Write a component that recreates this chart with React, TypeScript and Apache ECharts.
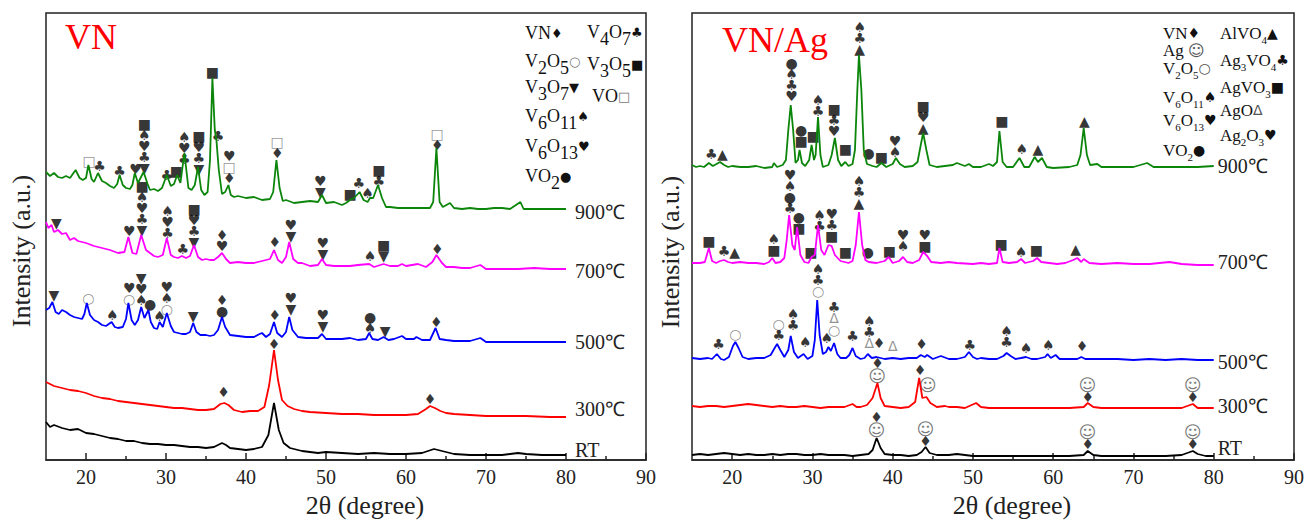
import React, { useEffect, useRef } from 'react';
import * as echarts from 'echarts';

// ---------- axis ticks ----------
const xLabelValues = [20, 30, 40, 50, 60, 70, 80, 90];
const xMinorValues = [25, 35, 45, 55, 65, 75, 85];

// ---------- series names / colours ----------
const tempNames = ['RT', '300℃', '500℃', '700℃', '900℃'];
const tempColors = ['#000000', '#ff0000', '#0000ff', '#ff00ff', '#0b860b'];

// ---------- VN panel (2θ, offset intensity a.u.) ----------
const vnRT = [[15,38],[15.5,33],[16,35],[17,32],[18,30],[19,31],[20,27],[21,26],[22,24],[23,22],[24,21],[25,19],[26,19],[27,17],[28,16],[29,16],[30,15],[31,15],[32,14],[33,13],[34,13],[35,12],[36,13],[37,17],[37.5,15],[38,12],[39,11],[40,10],[41,11],[42,13],[42.8,25],[43.5,57],[44.1,30],[44.7,17],[45.5,12],[47,9],[48,8],[49,7],[50,8],[52,7],[54,6],[56,7],[58,6],[60,6],[62,7],[63.5,11],[64.5,9],[66,6],[68,5],[70,5],[72,5],[74,7],[75,6],[77,5],[80,5]];
const vn300 = [[15,78],[16,74],[17,72],[18,70],[19,69],[20,67],[21,64],[22,62],[23,61],[24,59],[25,58],[26,57],[27,56],[28,55],[29,54],[30,53],[31,52],[32,52],[33,51],[34,50],[35,50],[36,51],[36.8,56],[37.3,57],[37.8,55],[38.5,50],[39.5,48],[40.5,49],[41.5,49],[42.3,53],[42.9,75],[43.5,110],[44,80],[44.5,60],[45.2,54],[46,51],[47,49],[48,48],[50,47],[52,46],[54,46],[56,45],[58,45],[60,45],[61.5,46],[62.5,51],[63,54],[63.6,52],[64.3,49],[65,47],[66,46],[68,45],[70,44],[72,44],[75,44],[78,43],[80,43]];
const vn500 = [[15,150],[15.4,152],[15.8,158],[16.2,148],[16.6,146],[17,150],[17.5,148],[18,145],[18.5,143],[19,142],[19.5,141],[19.8,146],[20.1,157],[20.5,145],[21,140],[21.5,138],[22,135],[22.5,134],[23.2,138],[23.6,133],[24,132],[24.6,133],[25,141],[25.3,157],[25.7,140],[26.1,135],[26.5,140],[26.9,153],[27.3,142],[27.8,150],[28.1,138],[28.5,132],[28.9,131],[29.2,138],[29.6,133],[30.1,147],[30.6,134],[31,128],[31.5,127],[32,126],[32.5,126],[33,128],[33.4,137],[33.8,128],[34.3,125],[35,125],[35.5,124],[36,125],[36.5,130],[37,143],[37.4,133],[38,125],[39,124],[40,123],[41,123],[41.7,126],[42,127],[42.5,123],[43,126],[43.5,138],[43.9,127],[44.5,123],[45,128],[45.4,143],[45.8,130],[46.5,123],[47.5,122],[48.5,122],[49,122],[49.5,126],[50,121],[51,121],[52,121],[53,122],[53.5,121],[54,120],[55,121],[55.4,127],[55.8,121],[56.5,120],[57.2,123],[57.8,120],[58.5,121],[59.5,124],[60,121],[61,121],[61.3,123],[62,120],[63,120],[63.7,132],[64.2,121],[65,120],[66,119],[67,119],[68,119],[69.3,122],[70,118],[72,118],[74,118],[76,118],[78,118],[80,118]];
const vn700 = [[15,238],[15.3,232],[15.7,235],[16,228],[16.5,230],[17,226],[17.5,227],[18,220],[18.5,222],[19,219],[20,217],[21,214],[22,212],[23,210],[24,207],[24.8,208],[25.3,223],[25.8,207],[26.3,206],[26.9,225],[27.5,210],[28,207],[28.5,204],[29,203],[29.6,205],[30.1,222],[30.6,205],[31,203],[31.5,202],[32,204],[32.5,202],[33,204],[33.5,215],[34,203],[34.5,200],[35,201],[35.5,200],[36,200],[36.5,203],[37,207],[37.5,201],[38,197],[39,198],[40,197],[41,197],[42,199],[43,201],[43.5,210],[44,200],[44.5,197],[45,203],[45.4,218],[45.9,201],[46.5,197],[47,197],[48,194],[49,195],[49.5,201],[50,195],[51,194],[52,194],[53,194],[54,195],[55.4,196],[56,193],[57.2,196],[58,194],[59,194],[59.5,196],[60,194],[61.5,196],[62.5,193],[63.3,198],[63.8,205],[64.5,197],[65,193],[66,193],[67,192],[68,192],[69.3,195],[70,191],[72,191],[74,191],[76,192],[78,191],[80,191]];
const vn900 = [[15,288],[15.5,284],[16,287],[16.5,283],[17,282],[17.5,284],[18,282],[18.7,290],[19.2,282],[19.6,280],[20,282],[20.3,295],[20.7,281],[21,278],[21.5,287],[22,279],[22.5,277],[23,274],[23.5,272],[23.9,276],[24.2,285],[24.6,275],[25,272],[25.5,271],[25.8,275],[26.1,287],[26.5,277],[27.2,288],[27.7,276],[28,270],[28.5,271],[29,269],[29.5,272],[30.1,285],[30.6,274],[31,276],[31.4,285],[31.8,277],[32.3,307],[32.8,272],[33.2,270],[33.6,275],[34,293],[34.4,270],[34.8,265],[35.2,268],[35.5,300],[35.8,382],[36.1,330],[36.3,320],[36.6,290],[37,266],[37.4,268],[37.8,275],[38.1,265],[38.5,263],[39,264],[40,262],[41,263],[42,260],[43,261],[43.4,268],[43.8,300],[44.2,272],[44.6,259],[45,260],[46,257],[47,258],[48,259],[49,258],[49.5,265],[50,257],[51,258],[52,255],[52.5,257],[53,260],[53.5,262],[54.2,268],[54.7,260],[55.2,258],[55.5,262],[55.9,262],[56.5,275],[57,262],[57.5,253],[58,253],[59,252],[60,252],[61,252],[62,252],[63,252],[63.4,258],[63.8,312],[64.2,258],[64.6,253],[65.5,257],[66,252],[67,251],[68,252],[69,251],[70,251],[71,252],[72,252],[73,251],[74.3,258],[74.7,251],[76,251],[78,251],[80,251]];

// phase markers: [2θ, intensity at bottom of stack, symbols top→bottom]
const vnMarks = [
  [20.4,293,'□'],[21.7,288,'♣'],[24.2,283,'♣'],[26.2,285,'♥'],[27.3,286,'■♠♥♣▼'],[30.1,279,'♣'],[31.3,283,'■'],[32.3,295,'♠♥♣'],[34.1,285,'■♥♣▼'],[35.8,382,'■'],[36.5,318,'♣'],[37.9,276,'♥□♦'],[43.9,301,'□♦'],[49.3,262,'♥▼'],[53.0,260,'■'],[54.1,271,'♣'],[55.2,261,'♠'],[56.6,273,'■♣'],[63.9,309,'□♦'],
  [16.3,231,'▼'],[25.4,223,'♥'],[27.0,224,'■♠♥♣▼'],[30.2,221,'♠♥♣'],[32.1,205,'♣'],[33.5,212,'■♥♣▼'],[37.0,208,'♦♥'],[43.6,212,'♦'],[45.6,218,'♥▼'],[49.6,200,'♥▼'],[55.5,198,'♠'],[57.2,198,'■▼'],[63.9,205,'♦'],
  [16.0,159,'▼'],[20.3,156,'○'],[23.3,139,'♠'],[25.4,155,'♥○'],[26.9,154,'▼♥♠'],[28.0,150,'●'],[29.2,138,'♠'],[30.1,145,'♥♠○'],[33.4,138,'▼'],[37.0,143,'♦●'],[43.6,139,'♦'],[45.6,145,'♥▼'],[49.6,128,'♥▼'],[55.5,126,'●♠'],[57.4,123,'▼'],[63.8,132,'♦'],
  [37.2,62,'♦'],[43.5,110,'♦'],[63.0,55,'♦'],
];

// ---------- VN/Ag panel ----------
const agRT = [[15,5],[16,6],[17,5],[18,6],[19,7],[20,6],[21,5],[22,6],[23,5],[24,5],[25,6],[26,5],[27,6],[28,6],[29,5],[30,5],[31,6],[32,5],[33,5],[34,5],[35,4],[36,5],[37,6],[37.5,10],[38,22],[38.5,12],[39,6],[40,5],[41,5],[42,4],[43,5],[43.6,8],[44.1,13],[44.6,7],[45.5,5],[47,5],[48,6],[50,4],[52,4],[54,4],[56,4],[58,4],[60,4],[62,4],[63.8,5],[64.3,9],[65,5],[66,4],[68,4],[70,4],[72,4],[74,4],[76,5],[77.4,9],[78,6],[79,4],[80,4]];
const ag300 = [[15,54],[16,53],[17,54],[18,54],[19,53],[20,54],[21,55],[22,56],[23,55],[24,54],[25,53],[26,54],[27,53],[28,53],[29,54],[30,53],[31,52],[32,53],[33,53],[34,53],[35,56],[35.5,53],[36,53],[36.8,55],[37.5,62],[38.1,77],[38.5,62],[39,54],[40,53],[41,52],[42,53],[42.8,58],[43.3,82],[43.7,62],[44.2,63],[44.7,57],[45.5,53],[46.5,54],[47,53],[48,53],[49,52],[50.4,57],[51,53],[52,52],[54,52],[56,52],[58,52],[60,52],[62,52],[63.8,53],[64.3,57],[65,53],[66,52],[68,52],[70,52],[72,52],[74,52],[76,52],[77.4,56],[78,52],[80,52]];
const ag500 = [[15,102],[16,101],[17,102],[17.5,101],[18.1,106],[18.6,101],[19,100],[19.6,103],[20.1,114],[20.4,118],[20.8,112],[21.3,103],[22,101],[23,102],[24,102],[24.8,105],[25.3,112],[25.6,116],[26,110],[26.5,103],[27,110],[27.3,124],[27.7,108],[28.2,102],[28.9,106],[29.4,101],[30,104],[30.3,120],[30.6,160],[30.9,125],[31.3,106],[31.7,108],[32,113],[32.3,109],[32.7,117],[33.1,106],[33.5,102],[34.2,102],[34.6,105],[35,112],[35.4,104],[36,101],[36.5,102],[36.9,106],[37.4,102],[38,103],[38.5,102],[39,101],[40,102],[41,101],[42,102],[43,102],[43.5,105],[44,103],[44.3,105],[45,101],[46,104],[47,101],[48,101],[49,103],[49.5,108],[50,103],[50.5,101],[51,102],[52,101],[53,101],[53.8,104],[54.2,107],[54.7,104],[55.3,101],[56,102],[56.6,103],[57.3,101],[58,101],[59,103],[59.3,106],[59.7,102],[60.3,105],[60.8,101],[62,101],[63,101],[63.5,103],[64,101],[66,101],[68,101],[70,100],[72,101],[74,100],[76,101],[78,100],[80,100]];
const ag700 = [[15,197],[16,197],[16.6,198],[17.1,212],[17.5,199],[18,197],[18.5,199],[19,200],[19.5,198],[20,197],[21,198],[22,197],[23,197],[24,196],[24.6,198],[25,202],[25.4,197],[26,198],[26.5,202],[26.8,220],[27.1,245],[27.5,215],[27.8,210],[28.1,233],[28.5,205],[29,198],[29.5,197],[29.9,203],[30.3,205],[30.7,235],[31.1,210],[31.5,205],[32,215],[32.4,214],[32.8,205],[33.5,199],[34,198],[34.5,197],[35,199],[35.4,215],[35.8,248],[36.2,215],[36.6,200],[37,198],[38,197],[39,199],[39.5,203],[40,197],[40.8,199],[41.3,203],[41.8,198],[42.5,197],[43.3,200],[43.8,208],[44.3,204],[44.8,198],[46,197],[47,198],[48,197],[50,196],[51,197],[52,196],[53,197],[53.3,212],[53.7,198],[54.5,197],[55.5,198],[56,201],[56.5,197],[57.5,199],[58,202],[58.5,198],[59.5,197],[60.5,196],[61.5,197],[62.5,200],[63,202],[63.5,198],[63.8,201],[64.5,197],[66,196],[68,197],[70,196],[72,196],[74.5,198],[76,196],[78,195],[80,195]];
const ag900 = [[15,295],[15.5,293],[16,294],[16.5,293],[17.1,297],[17.6,294],[18.5,298],[19,295],[19.5,293],[20,294],[21,293],[22,293],[23,294],[24,292],[25,293],[25.2,297],[25.6,293],[26.3,295],[26.7,300],[27,330],[27.3,355],[27.6,330],[27.9,297],[28.2,300],[28.4,310],[28.7,297],[29.1,294],[29.6,300],[29.9,315],[30.2,300],[30.4,305],[30.7,343],[31,305],[31.3,293],[32,295],[32.4,305],[32.8,322],[33.2,300],[33.6,294],[34.1,298],[34.5,294],[35,296],[35.3,310],[35.6,370],[35.8,405],[36.1,370],[36.4,310],[36.8,296],[37.5,294],[38,293],[38.6,297],[39.2,293],[40,296],[40.4,302],[40.9,296],[41.5,293],[42.5,294],[43.1,298],[43.5,315],[43.8,327],[44.2,310],[44.6,295],[45.5,293],[46.5,294],[47.5,295],[48,297],[49,294],[49.5,296],[50,293],[51,293],[52,296],[52.5,294],[53,298],[53.3,329],[53.7,298],[54.2,293],[55,293],[55.8,302],[56.4,293],[57,293],[57.7,303],[58.1,298],[58.6,302],[59.2,293],[60,292],[62,293],[63,295],[63.4,305],[63.8,332],[64.2,305],[64.6,295],[65.5,296],[66,293],[68,293],[70,293],[71.7,297],[72.5,293],[74,293],[76,293],[78,293],[80,294]];

const agMarks = [
  [17.4,300,'♣'],[18.8,300,'▲'],[27.4,358,'●♠♣♥'],[28.6,313,'●■'],[30.1,318,'■'],[30.7,343,'♠♣'],[32.7,323,'■♣♥'],[34.1,305,'■'],[35.9,405,'♠♣▲'],[37.0,301,'●'],[38.6,297,'■'],[40.3,302,'♥♠'],[43.8,326,'■♥▲'],[53.6,333,'■'],[56.1,305,'♠'],[58.1,305,'▲'],[63.9,333,'▲'],
  [17.1,213,'■'],[19.0,203,'♣'],[20.3,202,'▲'],[25.2,204,'♠■'],[27.2,246,'♥♠●♣'],[28.3,226,'●■'],[29.8,202,'■'],[30.9,228,'♠♣'],[32.4,218,'♥♣■'],[34.1,202,'■'],[35.8,251,'♠♣▲'],[36.9,202,'●'],[39.6,203,'■'],[41.3,208,'♥♠'],[44.0,208,'♥■'],[53.5,210,'■'],[56.0,202,'♠'],[57.9,204,'■'],[62.8,205,'▲'],
  [18.3,110,'♣'],[20.4,120,'○'],[25.8,119,'○♣'],[27.6,129,'♠♣'],[29.1,112,'♠'],[30.7,163,'♠♣○'],[31.8,116,'♠'],[32.7,124,'♣Δ○'],[35.0,118,'♣'],[37.1,111,'♠♣Δ'],[38.3,111,'♦'],[40.0,108,'Δ'],[43.6,110,'♦'],[49.6,109,'♣'],[54.2,112,'♠♣'],[56.6,106,'♠'],[59.4,109,'♠'],[63.6,108,'♦'],
  [38.1,77,'♦☺'],[43.4,84,'♦'],[44.4,68,'☺'],[64.3,57,'☺♦'],[77.4,57,'☺♦'],
  [38.0,23,'♦☺'],[44.1,13,'☺♦'],[64.3,10,'☺♦'],[77.4,10,'☺♦'],
];

const vnData = [vnRT, vn300, vn500, vn700, vn900];
const agData = [agRT, ag300, ag500, ag700, ag900];

// ---------- helpers ----------
const SERIF = "'Liberation Serif', 'Times New Roman', serif";
const SYM = "'DejaVu Sans', sans-serif";
const styleOf = (ch: string) => (ch === '○' || ch === '□' || ch === 'Δ') ? 'g' : ch === '☺' ? 'f' : 'k';
const toRich = (s: string) => Array.from(s).map((ch) => `{${styleOf(ch)}|${ch}}`).join('\n');
const markRich = {
  k: { fontSize: 14, lineHeight: 11, fontFamily: SYM, color: '#000' },
  g: { fontSize: 14, lineHeight: 11.5, fontFamily: SYM, color: '#777' },
  f: { fontSize: 17, lineHeight: 14, fontFamily: SYM, color: '#555' },
};

const App: React.FC = () => {
  const ref = useRef<HTMLDivElement>(null);
  useEffect(() => {
    if (!ref.current) return;
    const chart = echarts.init(ref.current, undefined, { renderer: 'svg' });

    const grids = [
      { left: 46, top: 13, width: 600, height: 447 },
      { left: 692, top: 13, width: 604, height: 447 },
    ];
    const xAxes: any[] = [];
    const yAxes: any[] = [];
    grids.forEach((_, gi) => {
      xAxes.push({
        type: 'value', gridIndex: gi, min: 15, max: 90,
        axisLine: { show: true, lineStyle: { color: '#222', width: 1.5 } },
        axisTick: { show: true, inside: true, length: 7, customValues: xLabelValues, lineStyle: { color: '#222', width: 1.5 } },
        axisLabel: { show: true, customValues: xLabelValues, color: '#222', fontSize: 20, fontFamily: SERIF, margin: 7 },
        splitLine: { show: false },
      });
      xAxes.push({
        type: 'value', gridIndex: gi, min: 15, max: 90, position: 'bottom',
        axisLine: { show: false },
        axisTick: { show: true, inside: true, length: 4, customValues: xMinorValues, lineStyle: { color: '#222', width: 1.5 } },
        axisLabel: { show: false },
        splitLine: { show: false },
      });
      yAxes.push({ type: 'value', gridIndex: gi, min: 0, max: 447, show: false });
    });

    const endDy = [[-5, -8, 0, 2, 3], [-8, -2, 2, -3, 0]];
    const endDist = [9, 4];
    const series: any[] = [];
    [vnData, agData].forEach((set, gi) => {
      set.forEach((data, i) => {
        series.push({
          type: 'line', xAxisIndex: gi * 2, yAxisIndex: gi, data, symbol: 'none', showSymbol: false, silent: true,
          lineStyle: { color: tempColors[i], width: 1.8 }, itemStyle: { color: tempColors[i] },
          endLabel: {
            show: true, formatter: () => tempNames[i], distance: endDist[gi], offset: [0, endDy[gi][i]],
            color: '#222', fontSize: 20, fontFamily: SERIF,
          },
        });
      });
    });
    [vnMarks, agMarks].forEach((marks, gi) => {
      series.push({
        type: 'scatter', xAxisIndex: gi * 2, yAxisIndex: gi, silent: true, symbolSize: 1,
        itemStyle: { color: 'rgba(0,0,0,0)' },
        data: marks.map((m: any) => ({ value: [m[0], m[1]], name: m[2] })),
        label: { show: true, position: 'top', distance: 0, formatter: (p: any) => toRich(p.name), rich: markRich },
      });
    });

    const legBase = { fontSize: 18, fontFamily: SERIF, fill: '#111', verticalAlign: 'middle' };
    const legRichL = {
      s: { fontSize: 18, fontFamily: SERIF, fill: '#111', padding: [14, 0, 0, 0] },
      m: { fontSize: 13, fontFamily: SYM, fill: '#111' },
      g: { fontSize: 13, fontFamily: SYM, fill: '#777' },
    };
    const legRichR = {
      s: { fontSize: 11, fontFamily: SERIF, fill: '#111', padding: [14, 0, 0, 0] },
      m: { fontSize: 14, fontFamily: SYM, fill: '#111' },
      g: { fontSize: 14, fontFamily: SYM, fill: '#555' },
      f: { fontSize: 16, fontFamily: SYM, fill: '#555' },
    };
    const leg = (text: string, x: number, y: number, rich: any, size = 18) => ({
      type: 'text', x, y, silent: true,
      style: { ...legBase, fontSize: size, text, rich },
    });

    const graphic: any[] = [
      { type: 'text', x: 65, y: 37, style: { text: 'VN', fontSize: 36, fontFamily: SERIF, fill: '#ff0000', verticalAlign: 'middle' } },
      { type: 'text', x: 722, y: 40, style: { text: 'VN/Ag', fontSize: 36, fontFamily: SERIF, fill: '#ff0000', verticalAlign: 'middle' } },
      { type: 'text', x: 21, y: 251, rotation: Math.PI / 2, style: { text: 'Intensity (a.u.)', fontSize: 26, fontFamily: SERIF, fill: '#222', align: 'center', verticalAlign: 'middle' } },
      { type: 'text', x: 670, y: 252, rotation: Math.PI / 2, style: { text: 'Intensity (a.u.)', fontSize: 26, fontFamily: SERIF, fill: '#222', align: 'center', verticalAlign: 'middle' } },
      { type: 'text', x: 365, y: 505, style: { text: '2θ (degree)', fontSize: 26, fontFamily: SERIF, fill: '#222', align: 'center', verticalAlign: 'middle' } },
      { type: 'text', x: 1012, y: 505, style: { text: '2θ (degree)', fontSize: 26, fontFamily: SERIF, fill: '#222', align: 'center', verticalAlign: 'middle' } },
      leg('VN{m|♦}', 525, 33, legRichL),
      leg('V{s|4}O{s|7}{m|♣}', 587, 32, legRichL),
      leg('V{s|2}O{s|5}{g|○}', 525, 61, legRichL),
      leg('V{s|3}O{s|5}{m|■}', 587, 64, legRichL),
      leg('V{s|3}O{s|7}{m|▼}', 525, 87, legRichL),
      leg('VO{g|□}', 592, 96, legRichL),
      leg('V{s|6}O{s|11}{m|♠}', 525, 116, legRichL),
      leg('V{s|6}O{s|13}{m|♥}', 525, 146, legRichL),
      leg('VO{s|2}{m|●}', 525, 176, legRichL),
      leg('VN{m|♦}', 1163, 33, legRichR, 17),
      leg('Ag {f|☺}', 1163, 50, legRichR, 17),
      leg('V{s|2}O{s|5}{g|○}', 1163, 68, legRichR, 17),
      leg('V{s|6}O{s|11}{m|♠}', 1163, 97, legRichR, 17),
      leg('V{s|6}O{s|13}{m|♥}', 1163, 120, legRichR, 17),
      leg('VO{s|2}{m|●}', 1163, 150, legRichR, 17),
      leg('AlVO{s|4}{m|▲}', 1220, 33, legRichR, 17),
      leg('Ag{s|3}VO{s|4}{m|♣}', 1220, 60, legRichR, 17),
      leg('AgVO{s|3}{m|■}', 1220, 87, legRichR, 17),
      leg('AgO{g|Δ}', 1220, 110, legRichR, 17),
      leg('Ag{s|2}O{s|3}{m|♥}', 1220, 135, legRichR, 17),
    ];

    chart.setOption({
      animation: false,
      backgroundColor: '#ffffff',
      grid: grids.map((g) => ({ ...g, show: true, borderColor: '#222', borderWidth: 1.5, backgroundColor: 'transparent' })),
      xAxis: xAxes,
      yAxis: yAxes,
      series,
      graphic,
    });
    return () => chart.dispose();
  }, []);
  return <div ref={ref} style={{ position: 'fixed', left: 0, top: 0, width: 1307, height: 520, background: '#fff' }} />;
};

export default App;
